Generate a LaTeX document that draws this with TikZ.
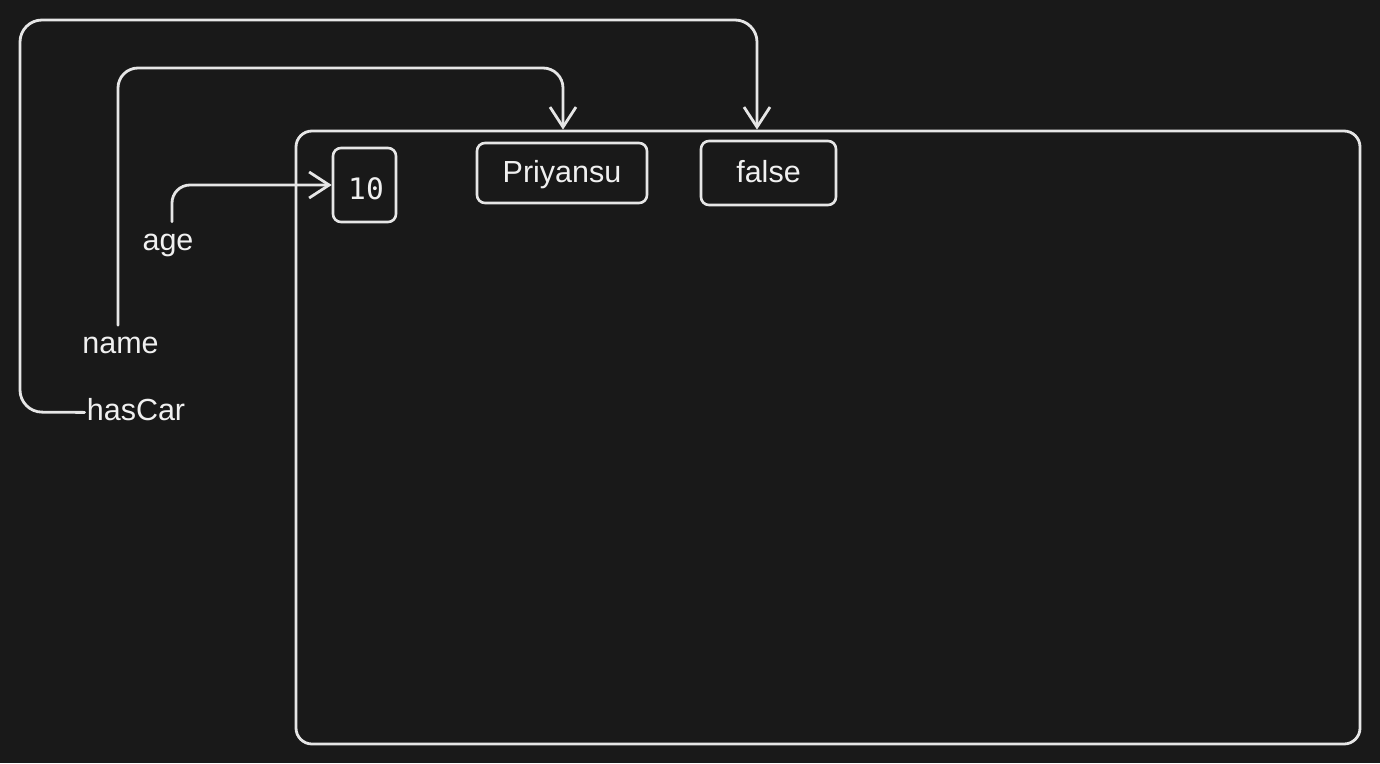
\documentclass[tikz,border=0pt]{standalone}
\usepackage{fontspec}
\setmainfont{Liberation Sans}
\newfontfamily\codefont{DejaVu Sans Mono}
\usetikzlibrary{arrows.meta}
\definecolor{bg}{HTML}{191919}
\definecolor{ink}{HTML}{E6E6E6}
\definecolor{txt}{HTML}{F0F0F0}
\begin{document}
\begin{tikzpicture}[x=1pt,y=-1pt,
  lbl/.style={text=txt, font=\fontsize{30.5}{36}\selectfont, inner sep=0pt, text height=21.5pt, text depth=6.3pt},
  valbox/.style={draw=ink, line width=2.6pt, rounded corners=8pt, text=txt, font=\fontsize{30.5}{36}\selectfont, inner sep=0pt, text height=21.5pt, text depth=6.3pt},
  conn/.style={draw=ink, line width=2.8pt, line cap=round, line join=round, -{Straight Barb[length=20pt,width=26pt]}}]
\useasboundingbox (0,0) rectangle (1380,763);
\fill[bg] (0,0) rectangle (1380,763);
% outer object box
\node[draw=ink, line width=2.8pt, rounded corners=16pt, minimum width=1064pt, minimum height=613pt, inner sep=0pt] (obj) at (828,437.5) {};
% values
\node[valbox, font=\codefont\fontsize{29.5}{32}\selectfont, text height=28pt, text depth=0pt, minimum width=63pt, minimum height=74pt] (ten) at (364.5,185) {\hspace*{3pt}10};
\node[valbox, minimum width=170pt, minimum height=60pt, text depth=3.5pt] (priy) at (562,173) {Priyansu};
\node[valbox, minimum width=135pt, minimum height=64pt, text depth=3.5pt] (fls) at (768.5,173) {false};
% labels
\node[lbl, anchor=base] (age) at (168,250) {age};
\node[lbl, anchor=base] (name) at (120.5,353) {name};
\node[lbl, anchor=base] (hascar) at (136,420) {hasCar};
% arrow end points on the top edge of the object box
\coordinate (nameTop) at (563,0);
\coordinate (carTop) at (757,0);
% connectors
\draw[conn, rounded corners=18pt] ([xshift=4pt,yshift=6.5pt]age.north) -- (172,185) -- (ten.west);
\draw[conn, rounded corners=20pt] ([xshift=-2.5pt,yshift=6pt]name.north) -- (118,68) -- (563,68) -- (nameTop|-obj.north);
\draw[conn, rounded corners=22pt] ([xshift=-2pt]hascar.west) -- (20,412) -- (20,20) -- (757,20) -- (carTop|-obj.north);
\end{tikzpicture}
\end{document}
